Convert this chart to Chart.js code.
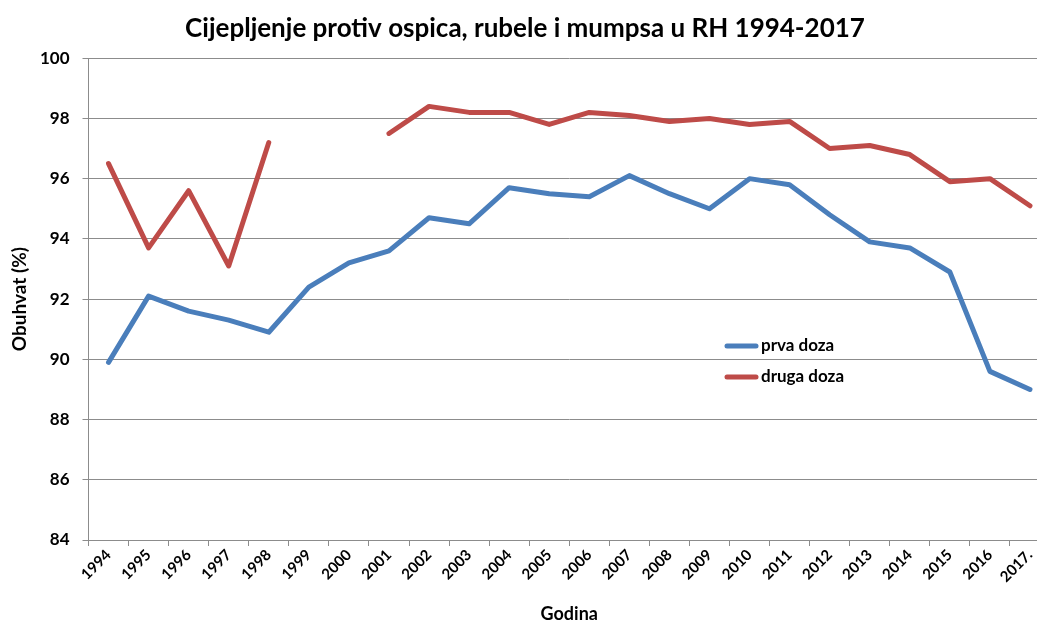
<!DOCTYPE html>
<html>
<head>
<meta charset="utf-8">
<script src="https://cdn.jsdelivr.net/npm/chart.js@4/dist/chart.umd.min.js"></script>
<style>
    html, body { margin: 0; padding: 0; background: #fff; overflow: hidden; }
    #wrap { width: 1037px; height: 625px; overflow: hidden; }
    canvas { display: block; }
</style>
</head>
<body>
<div id="wrap"><canvas id="chart" width="1050" height="625"></canvas></div>
<script>
// podaci (očitano s grafa)
const years     = ["1994","1995","1996","1997","1998","1999","2000","2001","2002","2003","2004","2005",
                   "2006","2007","2008","2009","2010","2011","2012","2013","2014","2015","2016","2017."];
const prvaDoza  = [89.9, 92.1, 91.6, 91.3, 90.9, 92.4, 93.2, 93.6, 94.7, 94.5, 95.7, 95.5,
                   95.4, 96.1, 95.5, 95.0, 96.0, 95.8, 94.8, 93.9, 93.7, 92.9, 89.6, 89.0];
const drugaDoza = [96.5, 93.7, 95.6, 93.1, 97.2, null, null, 97.5, 98.4, 98.2, 98.2, 97.8,
                   98.2, 98.1, 97.9, 98.0, 97.8, 97.9, 97.0, 97.1, 96.8, 95.9, 96.0, 95.1];
const yTicks    = [84, 86, 88, 90, 92, 94, 96, 98, 100];

const FONT = "Lato, 'Open Sans', sans-serif";
const GRID = "#8c8c8c";

// legenda unutar grafa (kao u Excelu)
const insideLegend = {
    id: "insideLegend",
    afterDraw(chart) {
        const ctx = chart.ctx;
        const x0 = 725, y0 = 346, row = 31;
        chart.data.datasets.forEach((ds, i) => {
            const y = y0 + i * row;
            ctx.save();
            ctx.strokeStyle = ds.borderColor;
            ctx.lineWidth = 5;
            ctx.lineCap = "round";
            ctx.beginPath();
            ctx.moveTo(x0 + 2, y);
            ctx.lineTo(x0 + 31, y);
            ctx.stroke();
            ctx.fillStyle = "#000";
            ctx.font = "bold 17px " + FONT;
            ctx.textBaseline = "middle";
            ctx.fillText(ds.label, x0 + 36, y);
            ctx.restore();
        });
    }
};

new Chart(document.getElementById("chart"), {
    type: "line",
    data: {
        labels: years,
        datasets: [
            {
                label: "prva doza",
                data: prvaDoza,
                borderColor: "#4a7ebb",
                backgroundColor: "#4a7ebb",
                borderWidth: 5,
                pointRadius: 0,
                tension: 0,
                borderCapStyle: "round",
                borderJoinStyle: "round"
            },
            {
                label: "druga doza",
                data: drugaDoza,
                borderColor: "#be4b48",
                backgroundColor: "#be4b48",
                borderWidth: 5,
                pointRadius: 0,
                tension: 0,
                spanGaps: false,
                borderCapStyle: "round",
                borderJoinStyle: "round"
            }
        ]
    },
    options: {
        responsive: false,
        animation: false,
        layout: { padding: { left: 0, right: 0, top: 0, bottom: 0 } },
        plugins: {
            legend: { display: false },
            tooltip: { enabled: false },
            title: {
                display: true,
                text: "Cijepljenje protiv ospica, rubele i mumpsa u RH 1994-2017",
                color: "#000",
                font: { family: FONT, size: 26, weight: "bold" },
                padding: { top: 13, bottom: 14 }
            }
        },
        scales: {
            x: {
                offset: true,
                grid: {
                    offset: true,
                    drawOnChartArea: false,
                    drawTicks: true,
                    tickLength: 6,
                    color: GRID
                },
                border: { color: GRID, width: 1 },
                ticks: {
                    autoSkip: false,
                    minRotation: 45,
                    maxRotation: 45,
                    padding: 0,
                    color: "#000",
                    font: { family: FONT, size: 15, weight: "bold" }
                },
                title: {
                    display: true,
                    text: "Godina",
                    color: "#000",
                    font: { family: FONT, size: 18, weight: "bold" },
                    padding: { top: 4, bottom: 0 }
                },
                afterFit(scale) { scale.height = 85; }
            },
            y: {
                min: 84,
                max: 100,
                afterBuildTicks(scale) { scale.ticks = yTicks.map(v => ({ value: v })); },
                grid: { color: GRID, lineWidth: 1, tickLength: 6 },
                border: { color: GRID, width: 1 },
                ticks: {
                    padding: 13,
                    color: "#000",
                    font: { family: FONT, size: 17, weight: "bold" }
                },
                title: {
                    display: true,
                    text: "Obuhvat (%)",
                    color: "#000",
                    font: { family: FONT, size: 19, weight: "bold" },
                    padding: { top: 8, bottom: 0 }
                },
                afterFit(scale) { scale.width = 88.5; }
            }
        }
    },
    plugins: [insideLegend]
});
</script>
</body>
</html>
